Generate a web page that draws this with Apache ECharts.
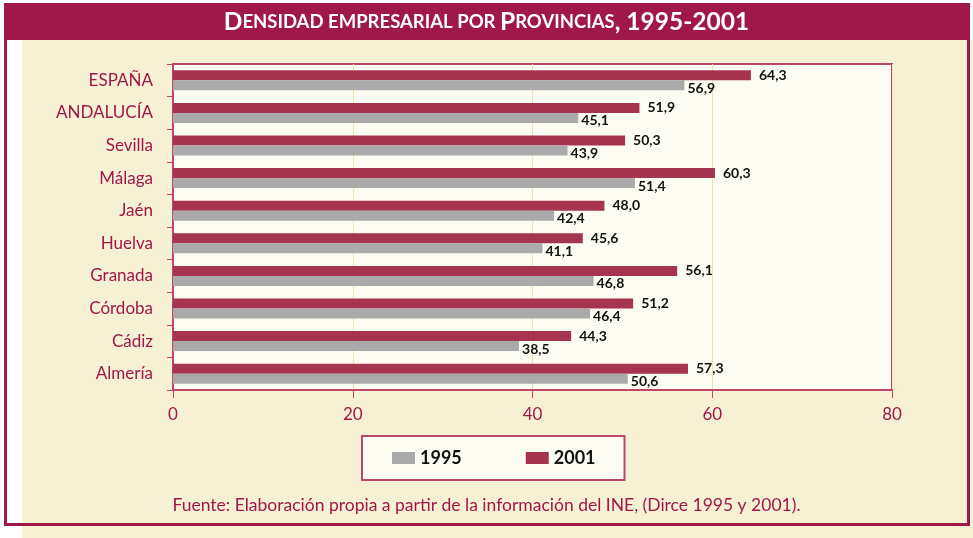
<!DOCTYPE html>
<html>
<head>
<meta charset="utf-8">
<script src="https://cdn.jsdelivr.net/npm/echarts@6/dist/echarts.min.js"></script>
<style>
  html, body { margin: 0; padding: 0; background: #fff; }
  #chart { width: 973px; height: 538px; }
</style>
</head>
<body>
<div id="chart"></div>
<script>
// 数据
const provincias = ['ESPAÑA', 'ANDALUCÍA', 'Sevilla', 'Málaga', 'Jaén', 'Huelva', 'Granada', 'Córdoba', 'Cádiz', 'Almería']
const valores1995 = [56.9, 45.1, 43.9, 51.4, 42.4, 41.1, 46.8, 46.4, 38.5, 50.6]
const valores2001 = [64.3, 51.9, 50.3, 60.3, 48.0, 45.6, 56.1, 51.2, 44.3, 57.3]
const xTicks = [0, 20, 40, 60, 80]

const crimson = '#a0184a'
const axisColor = '#c0466b'
const labelFont = 'Lato, "Open Sans", sans-serif'

const chart = echarts.init(document.getElementById('chart'))

const fmt = p => p.value.toFixed(1).replace('.', ',')

chart.setOption({
  animation: false,
  textStyle: { fontFamily: labelFont },
  graphic: [
    // 背景
    { type: 'rect', z: -10, shape: { x: 22, y: 40, width: 951, height: 498 }, style: { fill: '#f6f1d3' } },
    { type: 'rect', z: -10, shape: { x: 5, y: 4, width: 17, height: 520 }, style: { fill: '#ffffff' } },
    // 外框
    { type: 'rect', z: 10, shape: { x: 5.5, y: 4.5, width: 963, height: 520 }, style: { fill: null, stroke: crimson, lineWidth: 3 } },
    // 标题栏
    { type: 'rect', z: 9, shape: { x: 4, y: 3, width: 966, height: 37 }, style: { fill: crimson } },
    {
      type: 'text', z: 12, left: 'center', top: 506 - 10,
      style: {
        text: 'Fuente: Elaboración propia a partir de la información del INE, (Dirce 1995 y 2001).',
        fill: crimson, font: '17.5px ' + labelFont
      }
    }
  ],
  title: {
    text: '{b|D}{s|ENSIDAD EMPRESARIAL POR }{b|P}{s|ROVINCIAS}{b|, 1995-2001}',
    left: 'center',
    top: 5,
    z: 12,
    textStyle: {
      rich: {
        b: { fontSize: 24.5, color: '#fff', fontWeight: 'bold', fontFamily: labelFont },
        s: { fontSize: 18.5, color: '#fff', fontWeight: 'bold', fontFamily: labelFont }
      }
    }
  },
  legend: {
    data: ['1995', '2001'],
    left: 362,
    top: 436,
    padding: [13, 29, 13, 30],
    itemGap: 64,
    itemWidth: 23,
    itemHeight: 12,
    icon: 'rect',
    backgroundColor: '#fdfcf3',
    borderColor: axisColor,
    borderWidth: 2,
    textStyle: { fontSize: 18, fontWeight: 'bold', color: '#111', fontFamily: labelFont }
  },
  grid: {
    left: 173,
    right: 81,
    top: 64,
    bottom: 148,
    show: true,
    backgroundColor: '#fdfcf3',
    borderColor: axisColor,
    borderWidth: 2
  },
  xAxis: {
    type: 'value',
    min: xTicks[0],
    max: xTicks[xTicks.length - 1],
    interval: 20,
    axisLine: { show: true, lineStyle: { color: axisColor, width: 2 } },
    axisTick: { show: true, length: 8, lineStyle: { color: axisColor } },
    splitLine: { show: true, lineStyle: { color: '#efe3a6' } },
    axisLabel: { color: crimson, fontSize: 17, margin: 16 }
  },
  yAxis: {
    type: 'category',
    inverse: true,
    data: provincias,
    axisLine: { show: true, lineStyle: { color: axisColor, width: 2 } },
    axisTick: { show: true, length: 6, lineStyle: { color: axisColor } },
    axisLabel: { color: crimson, fontSize: 17, margin: 20 }
  },
  series: [
    {
      name: '2001',
      type: 'bar',
      data: valores2001,
      barWidth: 10,
      barGap: '0%',
      itemStyle: { color: '#a6334f' },
      label: { show: true, position: 'right', distance: 8, offset: [0, 0], formatter: fmt, color: '#111', fontWeight: 'bold', fontSize: 14 }
    },
    {
      name: '1995',
      type: 'bar',
      data: valores1995,
      barWidth: 10,
      barGap: '0%',
      itemStyle: { color: '#aaaaaa' },
      label: { show: true, position: 'right', distance: 3, offset: [0, 3], formatter: fmt, color: '#111', fontWeight: 'bold', fontSize: 14 }
    }
  ]
})
</script>
</body>
</html>
